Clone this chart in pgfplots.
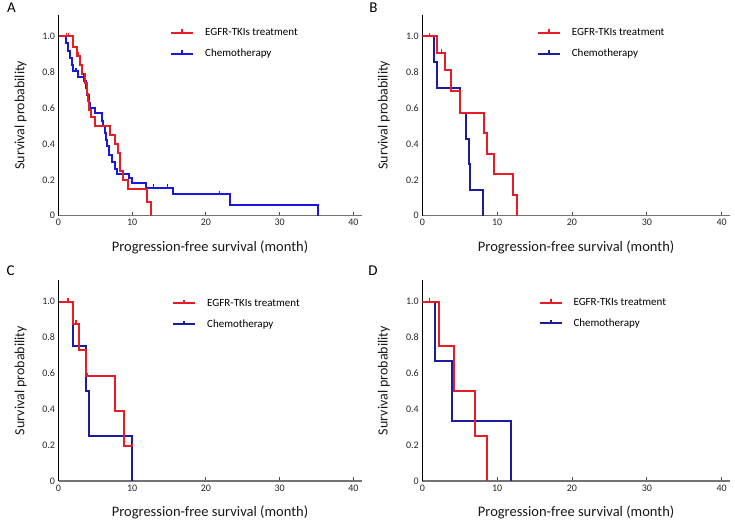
\documentclass[border=0pt]{standalone}
\usepackage{fontspec}
\setmainfont{Carlito}
\usepackage{pgfplots}
\pgfplotsset{compat=1.18}

\definecolor{tkired}{RGB}{232,28,36}
\definecolor{chemoA}{RGB}{24,24,224}
\definecolor{chemoB}{RGB}{28,28,160}

% censoring tick: short stroke upwards
\pgfdeclareplotmark{cens}{%
  \pgfpathmoveto{\pgfpointorigin}%
  \pgfpathlineto{\pgfpoint{0pt}{3.5pt}}%
  \pgfusepathqstroke}

\pgfplotsset{
  km/.style={
    scale only axis, width=303pt, height=201pt,
    xmin=0, xmax=41.1, ymin=0, ymax=1.12,
    axis x line=bottom, axis y line=left,
    x axis line style={-, draw=black!55, line width=1.2pt},
    y axis line style={-, draw=black, line width=0.9pt},
    xtick={0,10,20,30,40}, ytick={0,0.2,0.4,0.6,0.8,1},
    yticklabels={0,0.2,0.4,0.6,0.8,1.0},
    tick align=inside, major tick length=4pt,
    xtick style={draw=black!70, line width=0.9pt},
    ytick style={draw=none},
    ticklabel style={font=\fontsize{10}{12}\selectfont, text=black!85},
    /pgf/number format/assume math mode=true,
    xlabel={Progression-free survival (month)},
    ylabel={Survival probability},
    every axis x label/.style={at={(axis description cs:0.5,-0.158)}, anchor=center,
      font=\fontsize{14.5}{16}\selectfont, text=black!90},
    every axis y label/.style={at={(axis description cs:-0.125,0.5)}, rotate=90, anchor=center,
      font=\fontsize{14}{16}\selectfont, text=black!90},
    legend style={draw=none, fill=none, inner sep=0pt, anchor=west,
      row sep=12pt, font=\fontsize{11}{13}\selectfont, nodes={inner sep=0pt}},
    legend cell align=left,
    reverse legend,
    legend image code/.code={%
      \draw[##1] (0pt,0pt) -- (22pt,0pt);
      \draw[##1] (11pt,0pt) -- (11pt,3.5pt);
      \path (33pt,0pt);},
  },
  kml/.style={const plot, line width=2pt, line join=miter},
  cmark/.style={only marks, mark=cens, forget plot, mark options={line width=1.4pt}},
}

\begin{document}
\begin{tikzpicture}
\path[use as bounding box] (0,0) rectangle (735pt,525pt);

% ---------------- A ----------------
\begin{axis}[km, at={(58.5pt,309.3pt)}, anchor=south west,
  legend style={at={(axis cs:15.13,0.961)}}]
\addplot[chemoA, kml] coordinates {
  (0,1) (1.0,0.96) (1.3,0.92) (1.6,0.88) (1.85,0.84) (2.0,0.806) (2.6,0.775)
  (3.5,0.75) (3.7,0.71) (3.9,0.67) (4.1,0.63) (4.3,0.60) (5.0,0.57) (5.9,0.53)
  (6.1,0.50) (6.25,0.46) (6.4,0.42) (6.55,0.39) (6.8,0.34) (7.3,0.30) (7.6,0.26)
  (8.0,0.23) (9.5,0.21) (10.0,0.18) (11.9,0.155) (15.5,0.12) (23.3,0.06) (35.2,0)};
\addlegendentry{Chemotherapy}
\addplot[chemoA, cmark] coordinates {(2.4,0.806) (3.4,0.775) (12.9,0.155) (14.8,0.155) (21.8,0.12)};
\addplot[tkired, kml] coordinates {
  (0,1) (1.9,0.94) (2.5,0.89) (2.9,0.84) (3.2,0.79) (3.6,0.74) (3.9,0.68)
  (4.05,0.64) (4.2,0.59) (4.45,0.55) (4.9,0.50) (7.05,0.45) (7.6,0.40)
  (8.05,0.35) (8.4,0.25) (8.75,0.20) (9.45,0.15) (12.0,0.075) (12.6,0)};
\addlegendentry{EGFR-TKIs treatment}
\addplot[tkired, cmark] coordinates {(1.05,1) (1.35,1) (2.7,0.89)};
\end{axis}

% ---------------- B ----------------
\begin{axis}[km, width=307.6pt, at={(422.3pt,309.3pt)}, anchor=south west,
  legend style={at={(axis cs:15.28,0.961)}}]
\addplot[chemoB, kml] coordinates {
  (0,1) (1.6,0.857) (2.0,0.714) (5.0,0.571) (5.9,0.429) (6.2,0.286) (6.4,0.143) (8.1,0)};
\addlegendentry{Chemotherapy}
\addplot[tkired, kml] coordinates {
  (0,1) (2.0,0.909) (3.0,0.81) (3.8,0.695) (5.0,0.575) (8.3,0.46) (8.65,0.345)
  (9.6,0.23) (12.1,0.115) (12.7,0)};
\addlegendentry{EGFR-TKIs treatment}
\addplot[tkired, cmark] coordinates {(0.95,1) (2.6,0.909)};
\end{axis}

% ---------------- C ----------------
\begin{axis}[km, at={(58.5pt,44pt)}, anchor=south west,
  legend style={at={(axis cs:15.4,0.932)}}]
\addplot[chemoB, kml] coordinates {
  (0,1) (2.0,0.75) (3.7,0.5) (4.2,0.25) (10.0,0)};
\addlegendentry{Chemotherapy}
\addplot[tkired, kml] coordinates {
  (0,1) (1.95,0.875) (2.8,0.729) (3.7,0.583) (7.6,0.389) (8.87,0.194) (10.0,0.194)};
\addlegendentry{EGFR-TKIs treatment}
\addplot[tkired, cmark] coordinates {(1.3,1) (2.4,0.875) (3.9,0.583) (10.0,0.194)};
\end{axis}

% ---------------- D ----------------
\begin{axis}[km, width=307.6pt, at={(422.3pt,44pt)}, anchor=south west,
  legend style={at={(axis cs:15.5,0.936)}}]
\addplot[chemoB, kml] coordinates {
  (0,1) (1.7,0.667) (4.0,0.333) (11.9,0)};
\addlegendentry{Chemotherapy}
\addplot[tkired, kml] coordinates {
  (0,1) (2.2,0.75) (4.2,0.5) (7.07,0.25) (8.6,0)};
\addlegendentry{EGFR-TKIs treatment}
\addplot[tkired, cmark] coordinates {(1.0,1)};
\end{axis}

\node[font=\fontsize{15}{17}\selectfont] at (11.5pt,517pt) {A};
\node[font=\fontsize{15}{17}\selectfont] at (373.5pt,517pt) {B};
\node[font=\fontsize{15}{17}\selectfont] at (10.5pt,254.5pt) {C};
\node[font=\fontsize{15}{17}\selectfont] at (373pt,254.5pt) {D};
\end{tikzpicture}
\end{document}
